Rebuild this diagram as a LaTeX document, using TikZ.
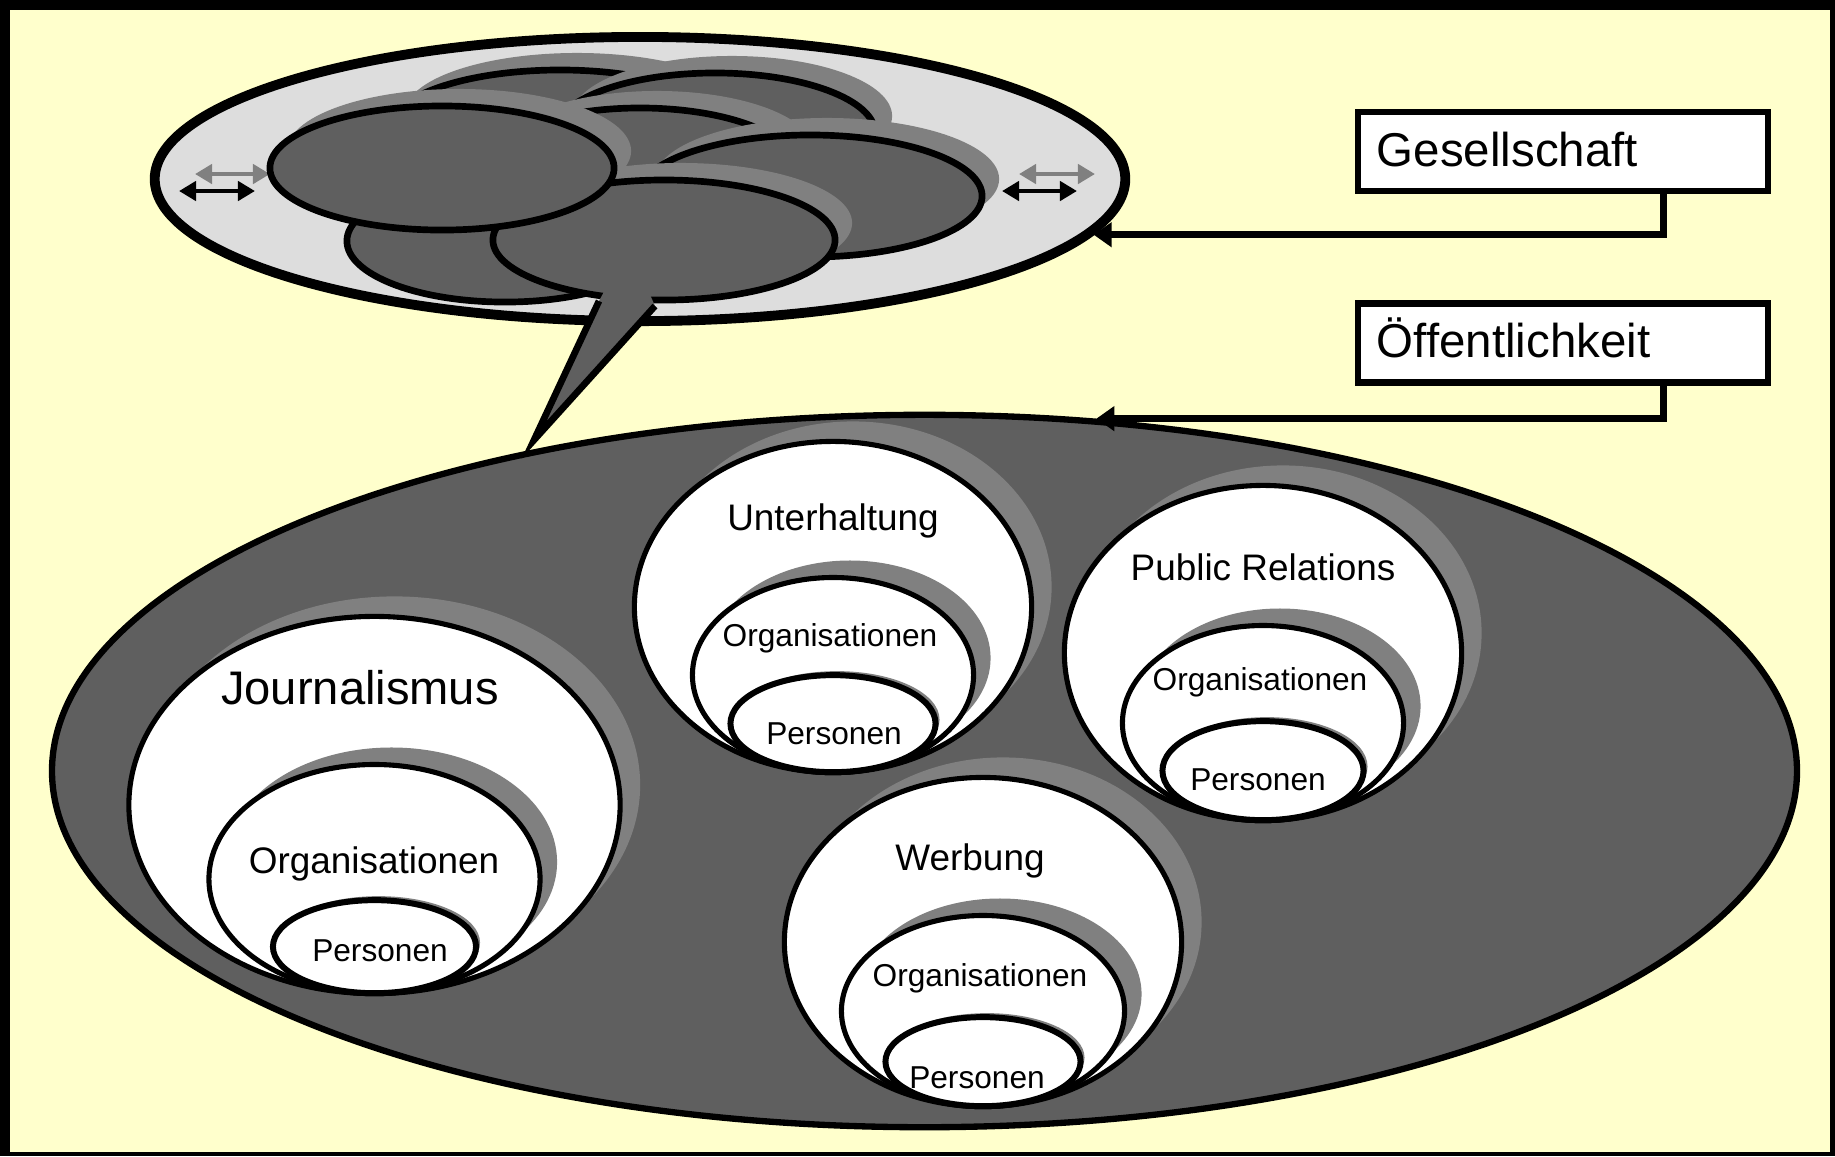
\documentclass[tikz,border=0pt]{standalone}
\usepackage{fontspec}
\setmainfont{Liberation Sans}
\usetikzlibrary{arrows.meta, positioning, shapes.geometric, shadows}
\definecolor{bgyellow}{HTML}{FFFFCC}
\definecolor{platefill}{HTML}{DDDDDD}
\definecolor{bubblefill}{HTML}{5F5F5F}
\definecolor{shadowgray}{HTML}{808080}
\tikzset{
  plate/.style={draw, ellipse, fill=platefill, line width=2.8pt, inner sep=0pt},
  public/.style={draw, ellipse, fill=bubblefill, line width=1.8pt, inner sep=0pt},
  bubble/.style={draw, ellipse, fill=bubblefill, line width=1.9pt, inner sep=0pt,
    drop shadow={opacity=1, fill=shadowgray, shadow xshift=0.17cm, shadow yshift=0.17cm}},
  circ/.style={draw, ellipse, fill=white, line width=1.45pt, inner sep=0pt,
    drop shadow={opacity=1, fill=shadowgray, shadow xshift=#1, shadow yshift=#1}},
  circ/.default=0.18cm,
  dims/.style 2 args={minimum width=#1cm, minimum height=#2cm},
  labelbox/.style={draw, fill=white, line width=1.9pt, minimum width=4.1cm, minimum height=0.79cm,
    text width=3.72cm, inner xsep=0.19cm, align=left, text height=0.29cm, text depth=0pt,
    font=\fontsize{13.5pt}{16pt}\selectfont},
  bigtxt/.style={font=\fontsize{13.4pt}{16pt}\selectfont, inner sep=0pt, anchor=base},
  midtxt/.style={font=\fontsize{10.5pt}{12pt}\selectfont, inner sep=0pt, anchor=base},
  smalltxt/.style={font=\fontsize{9pt}{11pt}\selectfont, inner sep=0pt, anchor=base},
  conn/.style={-{Triangle[length=1.8mm, width=2.4mm]}, line width=2pt},
  twoway/.style={{Triangle[length=1.7mm, width=1.9mm]}-{Triangle[length=1.7mm, width=1.9mm]}, line width=1.4pt},
}
\begin{document}
\begin{tikzpicture}[x=0.01cm, y=-0.01cm]
  \useasboundingbox (0,0) rectangle (1835,1156);
  % frame
  \fill[black] (0,0) rectangle (1835,1156);
  \fill[bgyellow] (10,10) rectangle (1830,1152);

  % Oeffentlichkeit
  \node[public, dims={17.44}{7.12}] (oeff) at (924.5,771) {};

  % Gesellschaft
  \node[plate, dims={9.70}{2.84}] (plate) at (640,179) {};
  \coordinate (lg1) at (195,174); \coordinate (lg2) at (270,174);
  \coordinate (lb1) at (179,191); \coordinate (lb2) at (255,191);
  \coordinate (rg1) at (1019,174); \coordinate (rg2) at (1095,174);
  \coordinate (rb1) at (1002,191); \coordinate (rb2) at (1077,191);
  \draw[twoway, shadowgray] (lg1) -- (lg2);
  \draw[twoway] (lb1) -- (lb2);
  \draw[twoway, shadowgray] (rg1) -- (rg2);
  \draw[twoway] (rb1) -- (rb2);

  % speech bubbles
  \node[bubble, dims={3.44}{1.20}] (b1) at (560,130) {};
  \node[bubble, dims={3.20}{1.20}] (b2) at (715,133) {};
  \node[bubble, dims={3.14}{1.20}] (b3) at (640,168) {};
  \node[bubble, dims={3.44}{1.22}] (b4) at (810,196) {};
  \node[bubble, dims={3.16}{1.22}] (b5) at (505,241) {};
  \node[bubble, dims={3.42}{1.20}] (b6) at (664,240) {};
  \coordinate (tail-l) at (599,301);
  \coordinate (tail-tip) at (534,440);
  \coordinate (tail-r) at (655,306);
  \fill[bubblefill] (606,288) -- (tail-l) -- (tail-tip) -- (tail-r) -- (648,290) -- cycle;
  \draw[line width=1.9pt] (tail-l) -- (tail-tip) -- (tail-r);
  \node[bubble, dims={3.44}{1.24}] (b7) at (442,168) {};

  % Journalismus
  \node[circ=0.2cm, dims={4.91}{3.77}] (jour) at (374.5,805) {};
  \node[circ=0.17cm, dims={3.31}{2.29}, anchor=south] (jour-org) at (jour.south) {};
  \node[circ=0.04cm, dims={2.03}{0.93}, anchor=south, line width=1.7pt] (jour-pers) at (jour.south) {};
  \node[bigtxt] (jour-t) at (360,704) {Journalismus};
  \node[midtxt] (jour-org-t) at (374,873) {Organisationen};
  \node[smalltxt] (jour-pers-t) at (380,961) {Personen};

  % Unterhaltung
  \node[circ=0.2cm, dims={3.97}{3.31}] (unt) at (833,607) {};
  \node[circ=0.17cm, dims={2.81}{1.95}, anchor=south] (unt-org) at (unt.south) {};
  \node[circ=0.04cm, dims={2.05}{0.97}, anchor=south, line width=1.7pt] (unt-pers) at (unt.south) {};
  \node[midtxt] (unt-t) at (833,530) {Unterhaltung};
  \node[smalltxt] (unt-org-t) at (830,646) {Organisationen};
  \node[smalltxt] (unt-pers-t) at (834,744) {Personen};

  % Public Relations
  \node[circ=0.2cm, dims={3.97}{3.35}] (pr) at (1263,653) {};
  \node[circ=0.17cm, dims={2.81}{1.95}, anchor=south] (pr-org) at (pr.south) {};
  \node[circ=0.04cm, dims={2.01}{0.99}, anchor=south, line width=1.7pt] (pr-pers) at (pr.south) {};
  \node[midtxt] (pr-t) at (1263,580) {Public Relations};
  \node[smalltxt] (pr-org-t) at (1260,690) {Organisationen};
  \node[smalltxt] (pr-pers-t) at (1258,790) {Personen};

  % Werbung
  \node[circ=0.2cm, dims={3.97}{3.29}] (werb) at (983,942) {};
  \node[circ=0.17cm, dims={2.83}{1.91}, anchor=south] (werb-org) at (werb.south) {};
  \node[circ=0.04cm, dims={1.95}{0.89}, anchor=south, line width=1.7pt] (werb-pers) at (werb.south) {};
  \node[midtxt] (werb-t) at (970,870) {Werbung};
  \node[smalltxt] (werb-org-t) at (980,986) {Organisationen};
  \node[smalltxt] (werb-pers-t) at (977,1088) {Personen};

  % labels
  \node[labelbox] (gesbox) at (1563,151.5) {Gesellschaft};
  \node[labelbox, below=1.06cm of gesbox] (oeffbox) {Öffentlichkeit};
  \draw[conn] ([xshift=1cm]gesbox.south) |- (plate.-7.5);
  \draw[conn] ([xshift=1cm]oeffbox.south) |- (oeff.64);
\end{tikzpicture}
\end{document}
